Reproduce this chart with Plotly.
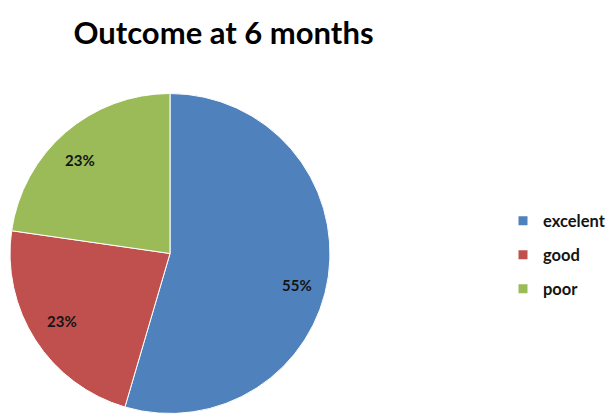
import math
import plotly.graph_objects as go

categories = ["excelent", "good", "poor"]
values = [12, 5, 5]
colors = ["#4F81BD", "#C0504D", "#9BBB59"]

W, H = 608, 414
cx, cy, r = 170, 253.5, 160  # pie centre / radius in pixels
label_nudge = [(0, 13), (0, -2), (-6, 3)]  # pixel nudges (dx, dy down) for label placement

fig = go.Figure()
fig.add_trace(go.Pie(
    labels=categories,
    values=values,
    sort=False,
    direction="clockwise",
    rotation=0,
    marker=dict(colors=colors, line=dict(color="white", width=1)),
    textinfo="none",
    domain=dict(x=[(cx - r) / W, (cx + r) / W], y=[(H - cy - r) / H, (H - cy + r) / H]),
    showlegend=False,
    hoverinfo="label+percent",
))

# legend entries
for name, col in zip(categories, colors):
    fig.add_trace(go.Scatter(
        x=[None], y=[None], mode="markers", name=name, legendgroup=name,
        marker=dict(symbol="square", size=9, color=col),
    ))

# percentage labels placed along each slice's mid-angle
total = sum(values)
cum = 0
for v, (ndx, ndy) in zip(values, label_nudge):
    mid = (cum + v / 2) / total * 2 * math.pi
    cum += v
    px = cx + 0.8 * r * math.sin(mid) + ndx
    py = cy - 0.8 * r * math.cos(mid) + ndy
    fig.add_annotation(
        x=px / W, y=1 - py / H, xref="paper", yref="paper",
        xanchor="center", yanchor="middle",
        text=f"<b>{round(v / total * 100)}%</b>", showarrow=False,
        font=dict(family="Lato", size=15, color="#141414"),
    )

fig.update_layout(
    width=W, height=H,
    margin=dict(l=0, r=0, t=0, b=0, autoexpand=False),
    paper_bgcolor="white",
    plot_bgcolor="white",
    xaxis=dict(visible=False),
    yaxis=dict(visible=False),
    title=dict(text="<b>Outcome at 6 months</b>", x=223.5 / W, xanchor="center",
               y=1 - 33 / H, yanchor="middle",
               font=dict(family="Lato", size=31, color="#000000")),
    legend=dict(x=(543 - 40) / W, y=1 - 255 / H, xanchor="left", yanchor="middle",
                xref="container", yref="container",
                font=dict(family="Lato", size=16.5, color="#141414", weight="bold"),
                tracegroupgap=9.5, bgcolor="rgba(0,0,0,0)"),
    showlegend=True,
)

fig.write_html("out.html")
